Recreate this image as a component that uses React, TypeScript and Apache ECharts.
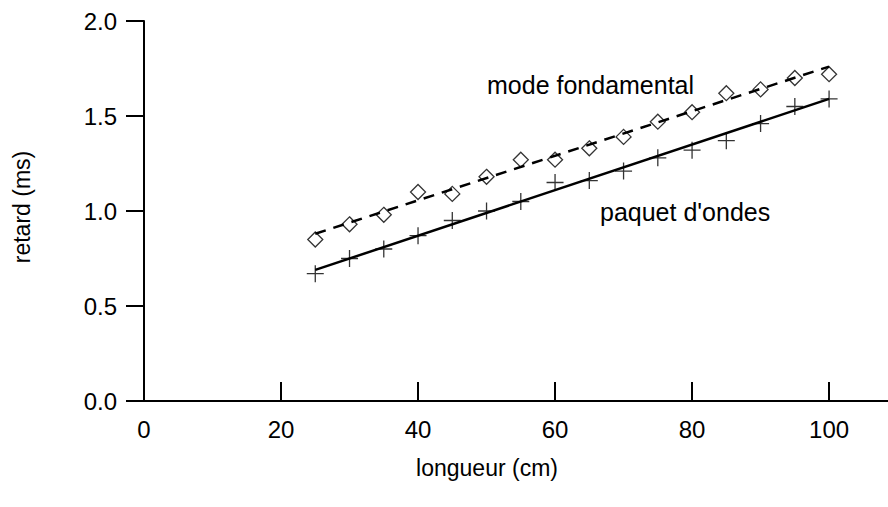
import React, { useEffect, useRef } from "react";
import * as echarts from "echarts";

const longueur = [25, 30, 35, 40, 45, 50, 55, 60, 65, 70, 75, 80, 85, 90, 95, 100];
const modeFondamental = [0.85, 0.93, 0.98, 1.1, 1.09, 1.18, 1.27, 1.27, 1.33, 1.39, 1.47, 1.52, 1.62, 1.64, 1.7, 1.72];
const paquetOndes = [0.67, 0.75, 0.8, 0.87, 0.95, 1.0, 1.05, 1.15, 1.16, 1.21, 1.28, 1.32, 1.37, 1.46, 1.55, 1.59];
const fitX = [25, 100];
const fitFondamental = [0.88, 1.76];
const fitPaquet = [0.69, 1.59];
const xTicks = [0, 20, 40, 60, 80, 100];
const xName = "longueur (cm)";
const yName = "retard (ms)";
const labelFond = "mode fondamental";
const labelPaquet = "paquet d'ondes";

const FONT = "'Liberation Sans', Arial, sans-serif";

export default function App() {
  const ref = useRef<HTMLDivElement>(null);
  useEffect(() => {
    if (!ref.current) return;
    const chart = echarts.init(ref.current, null, { renderer: "svg" });
    chart.setOption({
      animation: false,
      backgroundColor: "#ffffff",
      textStyle: { fontFamily: FONT, color: "#000" },
      grid: { left: 144, top: 21, right: 0, bottom: 106 },
      xAxis: {
        type: "value",
        min: 0,
        max: 108.6,
        axisLine: { show: true, lineStyle: { color: "#000", width: 2 } },
        axisTick: { show: true, inside: true, length: 19, lineStyle: { color: "#000", width: 2 }, customValues: xTicks },
        axisLabel: { color: "#000", fontSize: 24, fontFamily: FONT, margin: 16, customValues: xTicks },
        splitLine: { show: false },
      },
      yAxis: {
        type: "value",
        min: 0,
        max: 2,
        interval: 0.5,
        axisLine: { show: true, lineStyle: { color: "#000", width: 2 } },
        axisTick: { show: true, inside: false, length: 18, lineStyle: { color: "#000", width: 2 } },
        axisLabel: { color: "#000", fontSize: 24, fontFamily: FONT, margin: 27, formatter: (v: number) => v.toFixed(1) },
        splitLine: { show: false },
      },
      graphic: [
        { type: "text", x: 487, y: 468, style: { text: xName, font: `23px ${FONT}`, fill: "#000", align: "center", verticalAlign: "middle" } },
        { type: "text", x: 22, y: 207, rotation: Math.PI / 2, style: { text: yName, font: `23px ${FONT}`, fill: "#000", align: "center", verticalAlign: "middle" } },
        { type: "text", x: 487, y: 85, style: { text: labelFond, font: `25px ${FONT}`, fill: "#000", verticalAlign: "middle" } },
        { type: "text", x: 600, y: 212, style: { text: labelPaquet, font: `25px ${FONT}`, fill: "#000", verticalAlign: "middle" } },
      ],
      series: [
        {
          type: "line",
          data: fitX.map((x, i) => [x, fitFondamental[i]]),
          showSymbol: false,
          lineStyle: { color: "#000", width: 2.5, type: [11, 8] },
          silent: true,
        },
        {
          type: "line",
          data: fitX.map((x, i) => [x, fitPaquet[i]]),
          showSymbol: false,
          lineStyle: { color: "#000", width: 2.5 },
          silent: true,
        },
        {
          type: "scatter",
          data: longueur.map((x, i) => [x, modeFondamental[i]]),
          symbol: "diamond",
          symbolSize: [15, 15],
          itemStyle: { color: "rgba(0,0,0,0)", borderColor: "#000", borderWidth: 1.3 },
        },
        {
          type: "scatter",
          data: longueur.map((x, i) => [x, paquetOndes[i]]),
          symbol: "path://M8,0 L8,16 M0,8 L16,8",
          symbolSize: 17,
          itemStyle: { color: "rgba(0,0,0,0)", borderColor: "#000", borderWidth: 1.3 },
        },
      ],
    });
    return () => chart.dispose();
  }, []);
  return <div ref={ref} style={{ position: "absolute", left: 0, top: 0, width: 888, height: 507 }} />;
}
